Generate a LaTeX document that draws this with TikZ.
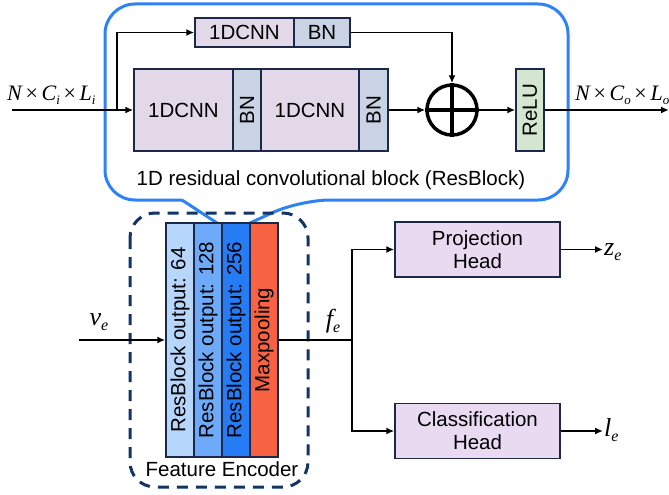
\documentclass[tikz,border=0pt]{standalone}
\usepackage{fontspec}
\setmainfont{Liberation Sans}
\newfontfamily\tms{Liberation Serif}
\usepackage{tikz}
\usetikzlibrary{arrows.meta}

\definecolor{cnnfill}{RGB}{226,216,232}
\definecolor{bnfill}{RGB}{201,211,228}
\definecolor{relufill}{RGB}{213,230,208}
\definecolor{headfill}{RGB}{233,218,242}
\definecolor{boxline}{RGB}{28,40,72}
\definecolor{calloutblue}{RGB}{45,130,245}
\definecolor{encnavy}{RGB}{18,52,102}
\definecolor{encA}{RGB}{183,214,252}
\definecolor{encB}{RGB}{110,170,250}
\definecolor{encC}{RGB}{38,124,245}
\definecolor{poolfill}{RGB}{246,98,66}

% italic serif symbols with a small lowered index
\newcommand{\tvar}[1]{{\tms\itshape #1}}
\newcommand{\tsub}[1]{\raisebox{-0.35ex}{\fontsize{13}{13}\selectfont\tms\itshape #1}}
\newcommand{\esub}[1]{\raisebox{-0.4ex}{\fontsize{16}{16}\selectfont\tms\itshape #1}}
\newcommand{\ttimes}{\,{\tms\char"00D7}\,}

\begin{document}
\begin{tikzpicture}[x=1pt,y=-1pt,
  font=\fontsize{20.5}{23}\selectfont,
  blk/.style={draw=boxline, line width=1.5pt, inner sep=0pt, minimum height=82pt},
  enc/.style={draw=boxline, line width=1.5pt, inner sep=0pt, minimum width=28pt, minimum height=234pt},
  head/.style={draw=boxline, line width=1.5pt, fill=headfill, inner sep=0pt, minimum width=165pt, minimum height=55pt, align=center},
  shape lab/.style={font=\fontsize{22}{24}\selectfont, inner sep=0pt},
  var lab/.style={font=\fontsize{26}{28}\selectfont, inner sep=1pt},
  flow/.style={line width=1.6pt, -{Latex[length=8pt,width=7pt]}},
  wire/.style={line width=1.6pt}]
\useasboundingbox (0,0) rectangle (669,495);

% residual block callout
\draw [calloutblue, line width=3pt] (182,200) -- (217,223);
\draw [calloutblue, line width=3pt, rounded corners=30pt] (250,223) -- (300,200) -- (568,200) -- (568,4) -- (105,4) -- (105,200) -- (182,200);

\node [blk, fill=cnnfill, minimum width=99pt, minimum height=29pt] (cnnS) at (244.5,32.5) {1DCNN};
\node [blk, fill=bnfill, minimum width=56pt, minimum height=29pt] (bnS) at (322,32.5) {BN};
\node [blk, fill=cnnfill, minimum width=99pt] (cnnA) at (183.5,110) {1DCNN};
\node [blk, fill=bnfill, minimum width=28pt] (bnA) at (247,110) {\rotatebox{90}{BN}};
\node [blk, fill=cnnfill, minimum width=98pt] (cnnB) at (310,110) {1DCNN};
\node [blk, fill=bnfill, minimum width=29pt] (bnB) at (373.5,110) {\rotatebox{90}{BN}};
\node [circle, draw, line width=3.5pt, minimum size=50pt, inner sep=0pt] (sum) at (452,110) {};
\draw [line width=3.5pt] (sum.north) -- (sum.south);
\draw [line width=3.5pt] (sum.west) -- (sum.east);
\node [blk, fill=relufill, minimum width=28pt] (relu) at (530,110) {\rotatebox{90}{ReLU}};
\node (cap) at (331,180) {1D residual convolutional block (ResBlock)};

\coordinate (xin) at (12,110);
\coordinate (split) at (117,110);
\coordinate (xout) at (669,110);
\node [shape lab, anchor=west] (inlab) at (7,95) {\tvar{N}\ttimes\tvar{C}\tsub{i}\ttimes\tvar{L}\tsub{i}};
\node [shape lab, anchor=west] (outlab) at (575,95) {\tvar{N}\ttimes\tvar{C}\tsub{o}\ttimes\tvar{L}\tsub{o}};

\draw [flow] (xin) -- (cnnA);
\draw [flow] (split) |- (cnnS);
\draw [flow] (bnS) -| (sum);
\draw [flow] (bnB) -- (sum);
\draw [flow] (sum) -- (relu);
\draw [flow] (relu) -- (xout);

% feature encoder
\draw [encnavy, line width=3pt, dash pattern=on 11pt off 8pt, rounded corners=25pt] (130,213) rectangle (308,487);
\node [enc, fill=encA] (res64) at (180,340) {\rotatebox{90}{ResBlock output: 64}};
\node [enc, fill=encB] (res128) at (208,340) {\rotatebox{90}{ResBlock output: 128}};
\node [enc, fill=encC] (res256) at (236,340) {\rotatebox{90}{ResBlock output: 256}};
\node [enc, fill=poolfill] (pool) at (264,340) {\rotatebox{90}{Maxpooling}};
\node (fenc) at (222,469) {Feature Encoder};

\coordinate (vin) at (79,340);
\coordinate (fork) at (352,340);
\node [var lab] (ve) at (99,322) {\tvar{v}\esub{e}};
\node [var lab] (fe) at (333,321) {\tvar{f}\esub{e}};
\draw [flow] (vin) -- (res64);
\draw [wire] (pool) -- (fork);

% heads
\node [head] (proj) at (477.5,249.5) {Projection\\Head};
\node [head] (cls) at (477.5,431) {Classification\\Head};
\node [var lab, anchor=west] (ze) at (603,252) {\tvar{z}\esub{e}};
\node [var lab, anchor=west] (le) at (603,430) {\tvar{l}\esub{e}};
\draw [flow] (fork) |- (proj);
\draw [flow] (fork) |- (cls);
\draw [flow] (proj) -- (proj.east -| ze.west);
\draw [flow] (cls) -- (cls.east -| le.west);
\end{tikzpicture}
\end{document}
